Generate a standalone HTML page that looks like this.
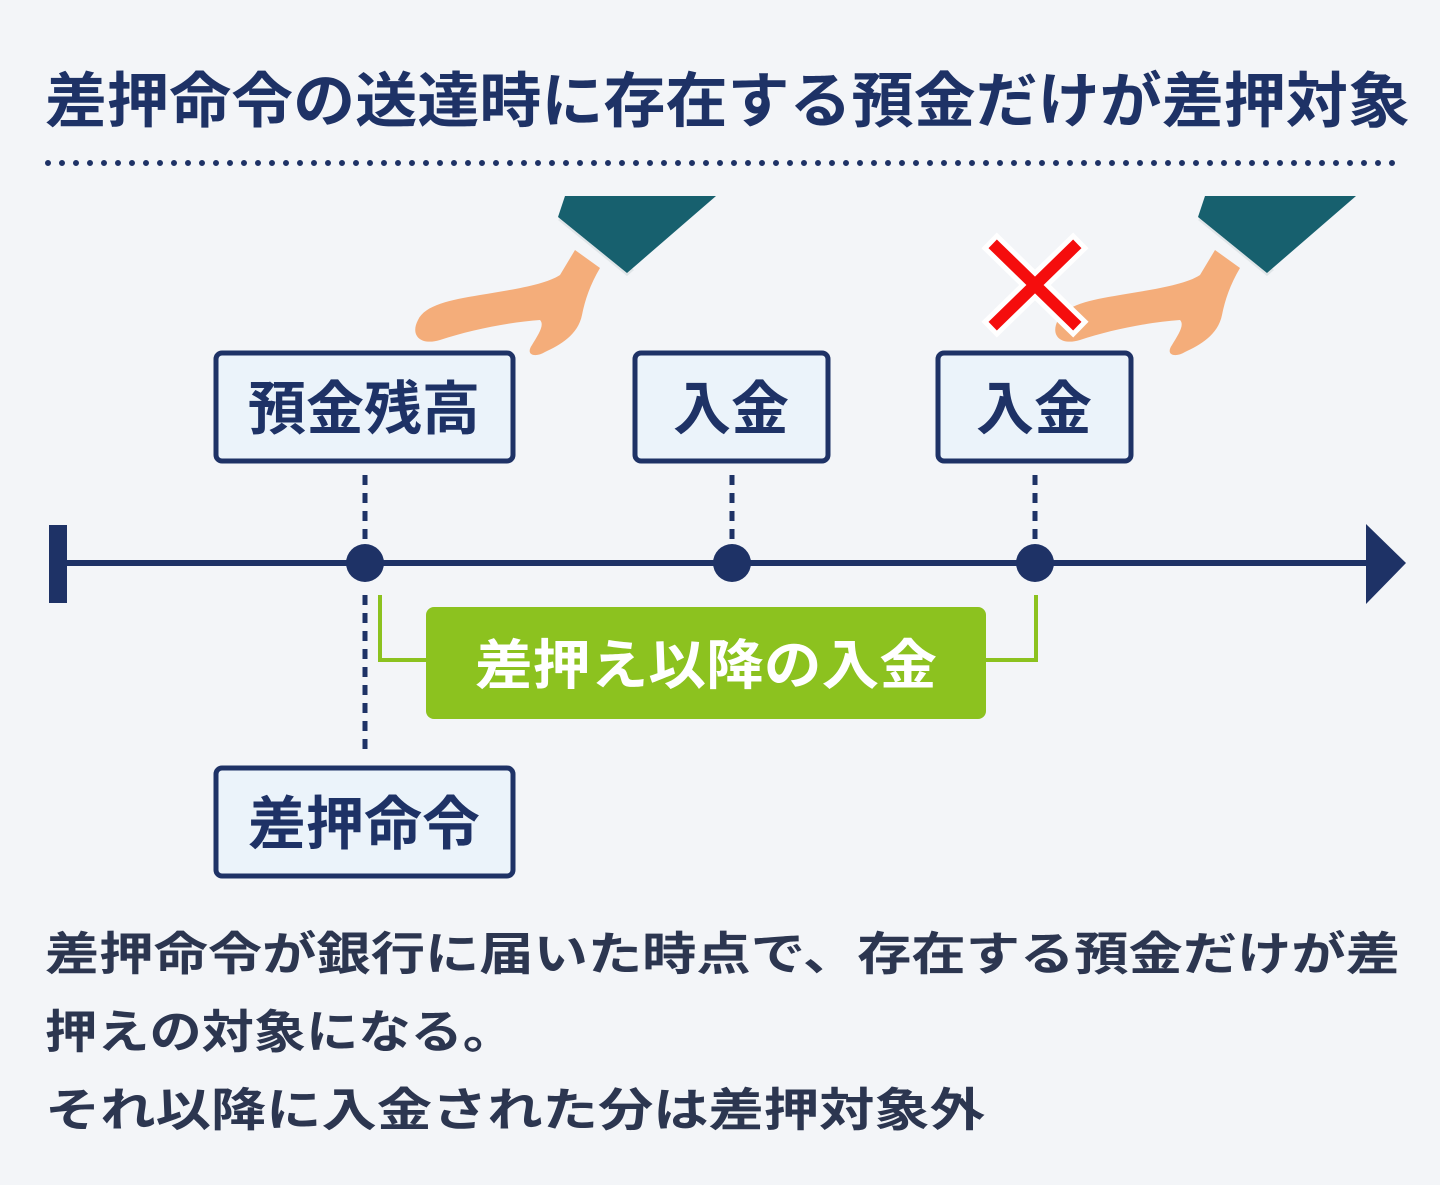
<!DOCTYPE html>
<html><head><meta charset="utf-8">
<style>
html,body{margin:0;padding:0;background:#f3f5f8;}
svg{display:block;}
text{font-family:"Liberation Sans","Noto Sans CJK JP",sans-serif;font-weight:bold;}
</style></head>
<body>
<svg width="1440" height="1185" viewBox="0 0 1440 1185" xmlns="http://www.w3.org/2000/svg">
<rect width="1440" height="1185" fill="#f3f5f8"/>
<!-- title -->
<text x="45" y="122" font-size="60" fill="#1e3266" textLength="1365" lengthAdjust="spacingAndGlyphs">差押命令の送達時に存在する預金だけが差押対象</text>
<line x1="48" y1="163" x2="1395" y2="163" stroke="#1e3266" stroke-width="6" stroke-linecap="round" stroke-dasharray="0 14"/>

<!-- hands -->
<g>
  <path d="M575,250 L600,268 C590,285 585,300 582,315 C578,335 560,345 545,352 C535,358 525,355 532,345 C538,335 545,325 540,320 C510,322 470,330 440,340 C420,346 410,335 418,320 C425,305 450,300 480,295 C510,290 545,285 560,275 Z" fill="#f4ad7a"/>
  <polygon points="558,220 565,215 634,270 627,276" fill="#e0e5e8"/>
  <polygon points="565,196 716,196 627,273 558,217" fill="#17606e"/>
</g>
<g transform="translate(640,0)">
  <path d="M575,250 L600,268 C590,285 585,300 582,315 C578,335 560,345 545,352 C535,358 525,355 532,345 C538,335 545,325 540,320 C510,322 470,330 440,340 C420,346 410,335 418,320 C425,305 450,300 480,295 C510,290 545,285 560,275 Z" fill="#f4ad7a"/>
  <polygon points="558,220 565,215 634,270 627,276" fill="#e0e5e8"/>
  <polygon points="565,196 716,196 627,273 558,217" fill="#17606e"/>
</g>
<!-- X -->
<g stroke-linecap="square">
  <path d="M997,248 L1073,322 M1073,248 L997,322" stroke="#ffffff" stroke-width="22"/>
  <path d="M997,248 L1073,322 M1073,248 L997,322" stroke="#f50d0d" stroke-width="12"/>
</g>

<!-- boxes -->
<g fill="#ebf3fa" stroke="#1e3266" stroke-width="5">
  <rect x="216" y="353" width="297" height="108" rx="6"/>
  <rect x="635" y="353" width="193" height="108" rx="6"/>
  <rect x="938" y="353" width="193" height="108" rx="6"/>
  <rect x="216" y="768" width="297" height="108" rx="6"/>
</g>
<g font-size="58" fill="#1e3266" text-anchor="middle">
  <text x="364" y="429">預金残高</text>
  <text x="731" y="429">入金</text>
  <text x="1034" y="429">入金</text>
  <text x="364" y="844">差押命令</text>
</g>

<!-- dotted verticals -->
<g stroke="#1e3266" stroke-width="5" stroke-dasharray="10 8">
  <line x1="365" y1="475" x2="365" y2="545"/>
  <line x1="732" y1="475" x2="732" y2="545"/>
  <line x1="1035" y1="475" x2="1035" y2="545"/>
  <line x1="365" y1="595" x2="365" y2="750"/>
</g>

<!-- timeline -->
<line x1="58" y1="563" x2="1380" y2="563" stroke="#1e3266" stroke-width="6"/>
<rect x="49" y="525" width="18" height="78" fill="#1e3266"/>
<polygon points="1366,524 1406,563 1366,604" fill="#1e3266"/>
<g fill="#1e3266">
  <circle cx="365" cy="563" r="19"/>
  <circle cx="732" cy="563" r="19"/>
  <circle cx="1035" cy="563" r="19"/>
</g>

<!-- green bracket -->
<polyline points="380,595 380,660 430,660" fill="none" stroke="#8cc21f" stroke-width="4"/>
<polyline points="985,660 1036,660 1036,595" fill="none" stroke="#8cc21f" stroke-width="4"/>
<rect x="426" y="607" width="560" height="112" rx="8" fill="#8cc21f"/>
<text x="706" y="684" font-size="54" fill="#ffffff" text-anchor="middle" textLength="462" lengthAdjust="spacingAndGlyphs">差押え以降の入金</text>

<!-- bottom text -->
<g font-size="46" fill="#2c3650" font-weight="bold">
  <text x="45" y="970" textLength="1355" lengthAdjust="spacingAndGlyphs">差押命令が銀行に届いた時点で、存在する預金だけが差</text>
  <text x="45" y="1048" textLength="470" lengthAdjust="spacingAndGlyphs">押えの対象になる。</text>
  <text x="45" y="1126" textLength="940" lengthAdjust="spacingAndGlyphs">それ以降に入金された分は差押対象外</text>
</g>
</svg>
</body></html>
